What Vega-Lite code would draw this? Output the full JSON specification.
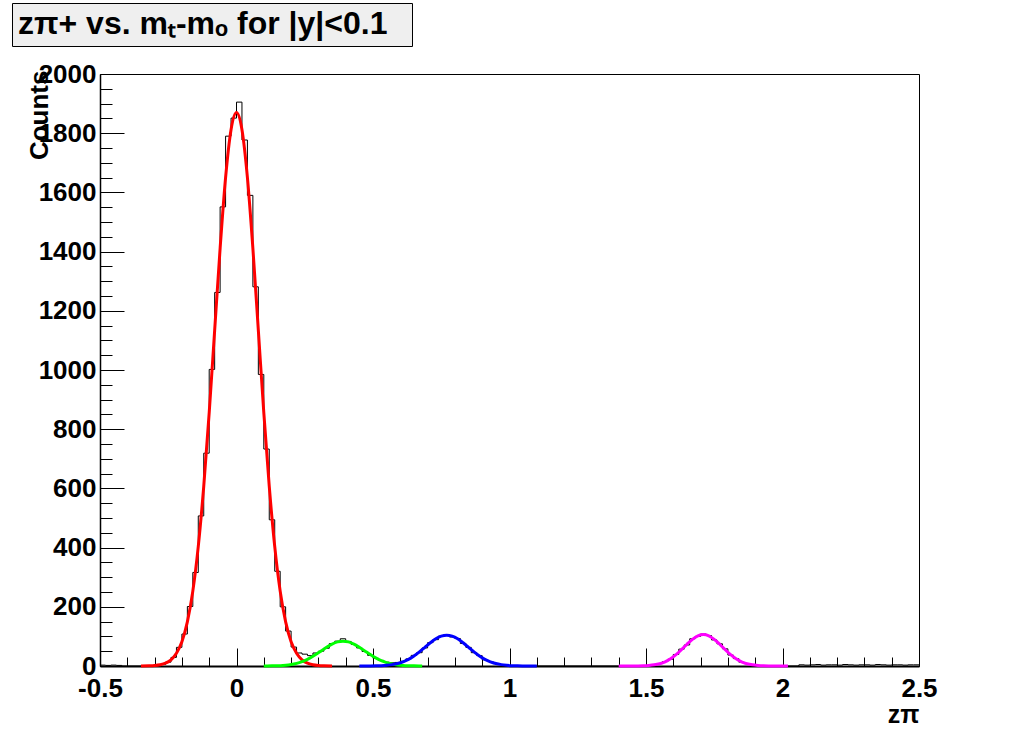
{
  "$schema": "https://vega.github.io/schema/vega-lite/v6.json",
  "background": "white",
  "autosize": {"type": "none"},
  "padding": {"left": 100, "top": 74, "right": 101, "bottom": 74},
  "width": 819,
  "height": 592,
  "view": {"fill": "white", "stroke": "black", "strokeWidth": 1},
  "config": {
    "font": "Liberation Sans",
    "axis": {
      "grid": false,
      "domainColor": "black",
      "tickColor": "black",
      "labelColor": "black",
      "titleColor": "black",
      "labelFont": "Liberation Sans",
      "titleFont": "Liberation Sans",
      "labelFontWeight": "bold",
      "titleFontWeight": "bold",
      "labelFontSize": 26,
      "titleFontSize": 26,
      "labelOverlap": false,
      "tickWidth": 1
    }
  },
  "datasets": {
    "hist": [
      {"z": -0.5, "n": 3}, {"z": -0.48, "n": 2}, {"z": -0.46, "n": 3}, {"z": -0.44, "n": 2}, {"z": -0.42, "n": 0},
      {"z": -0.32, "n": 1}, {"z": -0.30, "n": 3}, {"z": -0.28, "n": 5}, {"z": -0.26, "n": 13}, {"z": -0.24, "n": 29},
      {"z": -0.22, "n": 63}, {"z": -0.20, "n": 108}, {"z": -0.18, "n": 201}, {"z": -0.16, "n": 316}, {"z": -0.14, "n": 507},
      {"z": -0.12, "n": 719}, {"z": -0.10, "n": 1002}, {"z": -0.08, "n": 1262}, {"z": -0.06, "n": 1551}, {"z": -0.04, "n": 1790},
      {"z": -0.02, "n": 1851}, {"z": 0.0, "n": 1905}, {"z": 0.02, "n": 1777}, {"z": 0.04, "n": 1590}, {"z": 0.06, "n": 1281},
      {"z": 0.08, "n": 985}, {"z": 0.10, "n": 733}, {"z": 0.12, "n": 494}, {"z": 0.14, "n": 320}, {"z": 0.16, "n": 200},
      {"z": 0.18, "n": 118}, {"z": 0.20, "n": 64}, {"z": 0.22, "n": 44}, {"z": 0.24, "n": 40}, {"z": 0.26, "n": 35},
      {"z": 0.28, "n": 44}, {"z": 0.30, "n": 50}, {"z": 0.32, "n": 60}, {"z": 0.34, "n": 76}, {"z": 0.36, "n": 84},
      {"z": 0.38, "n": 92}, {"z": 0.40, "n": 83}, {"z": 0.42, "n": 73}, {"z": 0.44, "n": 61}, {"z": 0.46, "n": 49},
      {"z": 0.48, "n": 36}, {"z": 0.50, "n": 26}, {"z": 0.52, "n": 19}, {"z": 0.54, "n": 13}, {"z": 0.56, "n": 11},
      {"z": 0.58, "n": 12}, {"z": 0.60, "n": 16}, {"z": 0.62, "n": 24}, {"z": 0.64, "n": 36}, {"z": 0.66, "n": 45},
      {"z": 0.68, "n": 61}, {"z": 0.70, "n": 79}, {"z": 0.72, "n": 89}, {"z": 0.74, "n": 101}, {"z": 0.76, "n": 106},
      {"z": 0.78, "n": 98}, {"z": 0.80, "n": 93}, {"z": 0.82, "n": 76}, {"z": 0.84, "n": 63}, {"z": 0.86, "n": 45},
      {"z": 0.88, "n": 35}, {"z": 0.90, "n": 21}, {"z": 0.92, "n": 15}, {"z": 0.94, "n": 8}, {"z": 0.96, "n": 5},
      {"z": 0.98, "n": 2}, {"z": 1.00, "n": 1}, {"z": 1.02, "n": 1}, {"z": 1.04, "n": 0},
      {"z": 1.48, "n": 1}, {"z": 1.50, "n": 2}, {"z": 1.52, "n": 4}, {"z": 1.54, "n": 8}, {"z": 1.56, "n": 15},
      {"z": 1.58, "n": 23}, {"z": 1.60, "n": 39}, {"z": 1.62, "n": 57}, {"z": 1.64, "n": 71}, {"z": 1.66, "n": 92},
      {"z": 1.68, "n": 100}, {"z": 1.70, "n": 108}, {"z": 1.72, "n": 103}, {"z": 1.74, "n": 88}, {"z": 1.76, "n": 75},
      {"z": 1.78, "n": 58}, {"z": 1.80, "n": 37}, {"z": 1.82, "n": 25}, {"z": 1.84, "n": 13}, {"z": 1.86, "n": 8},
      {"z": 1.88, "n": 4}, {"z": 1.90, "n": 2}, {"z": 1.92, "n": 1}, {"z": 1.94, "n": 0},
      {"z": 2.06, "n": 4}, {"z": 2.08, "n": 3}, {"z": 2.10, "n": 4}, {"z": 2.12, "n": 5}, {"z": 2.14, "n": 3},
      {"z": 2.16, "n": 4}, {"z": 2.18, "n": 4}, {"z": 2.20, "n": 3}, {"z": 2.22, "n": 5}, {"z": 2.24, "n": 4},
      {"z": 2.26, "n": 3}, {"z": 2.28, "n": 4}, {"z": 2.30, "n": 4}, {"z": 2.32, "n": 3}, {"z": 2.34, "n": 5},
      {"z": 2.36, "n": 4}, {"z": 2.38, "n": 3}, {"z": 2.40, "n": 4}, {"z": 2.42, "n": 4}, {"z": 2.44, "n": 3},
      {"z": 2.46, "n": 4}, {"z": 2.48, "n": 4}, {"z": 2.50, "n": 4}
    ],
    "fits": [
      {"peak": "p0", "z": -0.35, "n": 0.1}, {"peak": "p0", "z": -0.32, "n": 0.6}, {"peak": "p0", "z": -0.30, "n": 1.6},
      {"peak": "p0", "z": -0.28, "n": 4.1}, {"peak": "p0", "z": -0.26, "n": 9.5}, {"peak": "p0", "z": -0.24, "n": 21},
      {"peak": "p0", "z": -0.22, "n": 43}, {"peak": "p0", "z": -0.20, "n": 82}, {"peak": "p0", "z": -0.18, "n": 149},
      {"peak": "p0", "z": -0.16, "n": 253}, {"peak": "p0", "z": -0.14, "n": 404}, {"peak": "p0", "z": -0.12, "n": 607},
      {"peak": "p0", "z": -0.10, "n": 856}, {"peak": "p0", "z": -0.08, "n": 1134}, {"peak": "p0", "z": -0.06, "n": 1411},
      {"peak": "p0", "z": -0.04, "n": 1650}, {"peak": "p0", "z": -0.02, "n": 1812}, {"peak": "p0", "z": 0.0, "n": 1870},
      {"peak": "p0", "z": 0.02, "n": 1812}, {"peak": "p0", "z": 0.04, "n": 1650}, {"peak": "p0", "z": 0.06, "n": 1411},
      {"peak": "p0", "z": 0.08, "n": 1134}, {"peak": "p0", "z": 0.10, "n": 856}, {"peak": "p0", "z": 0.12, "n": 607},
      {"peak": "p0", "z": 0.14, "n": 404}, {"peak": "p0", "z": 0.16, "n": 253}, {"peak": "p0", "z": 0.18, "n": 149},
      {"peak": "p0", "z": 0.20, "n": 82}, {"peak": "p0", "z": 0.22, "n": 43}, {"peak": "p0", "z": 0.24, "n": 21},
      {"peak": "p0", "z": 0.26, "n": 9.5}, {"peak": "p0", "z": 0.28, "n": 4.1}, {"peak": "p0", "z": 0.30, "n": 1.6},
      {"peak": "p0", "z": 0.32, "n": 0.6}, {"peak": "p0", "z": 0.35, "n": 0.1},

      {"peak": "p1", "z": 0.10, "n": 0.1}, {"peak": "p1", "z": 0.11, "n": 0.18}, {"peak": "p1", "z": 0.13, "n": 0.43},
      {"peak": "p1", "z": 0.15, "n": 0.93}, {"peak": "p1", "z": 0.17, "n": 1.9}, {"peak": "p1", "z": 0.19, "n": 3.7},
      {"peak": "p1", "z": 0.21, "n": 6.7}, {"peak": "p1", "z": 0.23, "n": 11.4}, {"peak": "p1", "z": 0.25, "n": 18.2},
      {"peak": "p1", "z": 0.27, "n": 27.3}, {"peak": "p1", "z": 0.29, "n": 38.5}, {"peak": "p1", "z": 0.31, "n": 50.9},
      {"peak": "p1", "z": 0.33, "n": 63.4}, {"peak": "p1", "z": 0.35, "n": 74.1}, {"peak": "p1", "z": 0.37, "n": 81.4},
      {"peak": "p1", "z": 0.39, "n": 84}, {"peak": "p1", "z": 0.41, "n": 81.4}, {"peak": "p1", "z": 0.43, "n": 74.1},
      {"peak": "p1", "z": 0.45, "n": 63.4}, {"peak": "p1", "z": 0.47, "n": 50.9}, {"peak": "p1", "z": 0.49, "n": 38.5},
      {"peak": "p1", "z": 0.51, "n": 27.3}, {"peak": "p1", "z": 0.53, "n": 18.2}, {"peak": "p1", "z": 0.55, "n": 11.4},
      {"peak": "p1", "z": 0.57, "n": 6.7}, {"peak": "p1", "z": 0.59, "n": 3.7}, {"peak": "p1", "z": 0.61, "n": 1.9},
      {"peak": "p1", "z": 0.63, "n": 0.93}, {"peak": "p1", "z": 0.65, "n": 0.43}, {"peak": "p1", "z": 0.67, "n": 0.18},
      {"peak": "p1", "z": 0.68, "n": 0.1},

      {"peak": "p2", "z": 0.45, "n": 0.03}, {"peak": "p2", "z": 0.47, "n": 0.09}, {"peak": "p2", "z": 0.49, "n": 0.23},
      {"peak": "p2", "z": 0.51, "n": 0.53}, {"peak": "p2", "z": 0.53, "n": 1.15}, {"peak": "p2", "z": 0.55, "n": 2.4},
      {"peak": "p2", "z": 0.57, "n": 4.6}, {"peak": "p2", "z": 0.59, "n": 8.3}, {"peak": "p2", "z": 0.61, "n": 14.1},
      {"peak": "p2", "z": 0.63, "n": 22.5}, {"peak": "p2", "z": 0.65, "n": 33.8}, {"peak": "p2", "z": 0.67, "n": 47.6},
      {"peak": "p2", "z": 0.69, "n": 63.1}, {"peak": "p2", "z": 0.71, "n": 78.5}, {"peak": "p2", "z": 0.73, "n": 91.8},
      {"peak": "p2", "z": 0.75, "n": 100.8}, {"peak": "p2", "z": 0.77, "n": 104}, {"peak": "p2", "z": 0.79, "n": 100.8},
      {"peak": "p2", "z": 0.81, "n": 91.8}, {"peak": "p2", "z": 0.83, "n": 78.5}, {"peak": "p2", "z": 0.85, "n": 63.1},
      {"peak": "p2", "z": 0.87, "n": 47.6}, {"peak": "p2", "z": 0.89, "n": 33.8}, {"peak": "p2", "z": 0.91, "n": 22.5},
      {"peak": "p2", "z": 0.93, "n": 14.1}, {"peak": "p2", "z": 0.95, "n": 8.3}, {"peak": "p2", "z": 0.97, "n": 4.6},
      {"peak": "p2", "z": 0.99, "n": 2.4}, {"peak": "p2", "z": 1.01, "n": 1.15}, {"peak": "p2", "z": 1.03, "n": 0.53},
      {"peak": "p2", "z": 1.05, "n": 0.23}, {"peak": "p2", "z": 1.07, "n": 0.09}, {"peak": "p2", "z": 1.10, "n": 0.02},

      {"peak": "p3", "z": 1.40, "n": 0.01}, {"peak": "p3", "z": 1.43, "n": 0.03}, {"peak": "p3", "z": 1.45, "n": 0.1},
      {"peak": "p3", "z": 1.47, "n": 0.3}, {"peak": "p3", "z": 1.49, "n": 0.76}, {"peak": "p3", "z": 1.51, "n": 1.8},
      {"peak": "p3", "z": 1.53, "n": 3.9}, {"peak": "p3", "z": 1.55, "n": 7.8}, {"peak": "p3", "z": 1.57, "n": 14.3},
      {"peak": "p3", "z": 1.59, "n": 24.4}, {"peak": "p3", "z": 1.61, "n": 38.2}, {"peak": "p3", "z": 1.63, "n": 55.1},
      {"peak": "p3", "z": 1.65, "n": 73.5}, {"peak": "p3", "z": 1.67, "n": 90}, {"peak": "p3", "z": 1.69, "n": 101.8},
      {"peak": "p3", "z": 1.71, "n": 106}, {"peak": "p3", "z": 1.73, "n": 101.8}, {"peak": "p3", "z": 1.75, "n": 90},
      {"peak": "p3", "z": 1.77, "n": 73.5}, {"peak": "p3", "z": 1.79, "n": 55.1}, {"peak": "p3", "z": 1.81, "n": 38.2},
      {"peak": "p3", "z": 1.83, "n": 24.4}, {"peak": "p3", "z": 1.85, "n": 14.3}, {"peak": "p3", "z": 1.87, "n": 7.8},
      {"peak": "p3", "z": 1.89, "n": 3.9}, {"peak": "p3", "z": 1.91, "n": 1.8}, {"peak": "p3", "z": 1.93, "n": 0.76},
      {"peak": "p3", "z": 1.95, "n": 0.3}, {"peak": "p3", "z": 1.97, "n": 0.1}, {"peak": "p3", "z": 1.99, "n": 0.03},
      {"peak": "p3", "z": 2.02, "n": 0.01}
    ]
  },
  "resolve": {"axis": {"x": "independent", "y": "independent"}},
  "layer": [
    {
      "data": {"name": "hist"},
      "mark": {"type": "line", "interpolate": "step-after", "color": "black", "strokeWidth": 1},
      "encoding": {
        "x": {
          "field": "z", "type": "quantitative",
          "scale": {"domain": [-0.5, 2.5], "nice": false, "zero": false},
          "axis": {
            "orient": "bottom",
            "values": [-0.5, 0, 0.5, 1, 1.5, 2, 2.5],
            "labelExpr": "(datum.value < 0 ? '-' : '') + format(abs(datum.value), '~g')",
            "tickSize": -18,
            "labelPadding": 27,
            "labelFlush": false,
            "labelOverlap": false,
            "domainWidth": 2,
            "title": "zπ",
            "titleFontSize": 25,
            "titleAlign": "right",
            "titleBaseline": "alphabetic",
            "titleX": 819,
            "titleY": 56
          }
        },
        "y": {
          "field": "n", "type": "quantitative",
          "scale": {"domain": [0, 2000], "nice": false},
          "axis": {
            "orient": "left",
            "values": [0, 200, 400, 600, 800, 1000, 1200, 1400, 1600, 1800, 2000],
            "format": "d",
            "tickSize": -24,
            "labelPadding": 28,
            "labelOverlap": false,
            "domainWidth": 1.5,
            "title": "Counts",
            "titleAngle": -90,
            "titleAlign": "right",
            "titleBaseline": "alphabetic",
            "titleX": -53,
            "titleY": -4
          }
        }
      }
    },
    {
      "data": {"name": "fits"},
      "mark": {"type": "line", "interpolate": "monotone", "strokeWidth": 3},
      "encoding": {
        "x": {
          "field": "z", "type": "quantitative",
          "axis": {
            "orient": "bottom",
            "values": [-0.4,-0.3,-0.2,-0.1,0.1,0.2,0.3,0.4,0.6,0.7,0.8,0.9,1.1,1.2,1.3,1.4,1.6,1.7,1.8,1.9,2.1,2.2,2.3,2.4],
            "tickSize": -9,
            "labels": false,
            "domain": false,
            "title": null
          }
        },
        "y": {
          "field": "n", "type": "quantitative",
          "axis": {
            "orient": "left",
            "values": [50,100,150,250,300,350,450,500,550,650,700,750,850,900,950,1050,1100,1150,1250,1300,1350,1450,1500,1550,1650,1700,1750,1850,1900,1950],
            "tickSize": -12,
            "labels": false,
            "domain": false,
            "title": null
          }
        },
        "color": {
          "field": "peak", "type": "nominal",
          "scale": {"domain": ["p0", "p1", "p2", "p3"], "range": ["#ff0000", "#00ff00", "#0000ff", "#ff00ff"]},
          "legend": {
            "orient": "none",
            "legendX": -88,
            "legendY": -71,
            "values": ["p0"],
            "title": "zπ+ vs. mₜ-mₒ for |y|<0.1",
            "titleFont": "Liberation Sans",
            "titleFontWeight": "bold",
            "titleFontSize": 32,
            "titleColor": "black",
            "titleLimit": 1000,
            "titleOrient": "left",
            "titlePadding": 12,
            "titleAnchor": "start",
            "labelExpr": "''",
            "labelFontSize": 1,
            "symbolSize": 0,
            "symbolOpacity": 0,
            "padding": 6,
            "fillColor": "#efefef",
            "strokeColor": "black",
            "cornerRadius": 0
          }
        }
      }
    }
  ]
}
